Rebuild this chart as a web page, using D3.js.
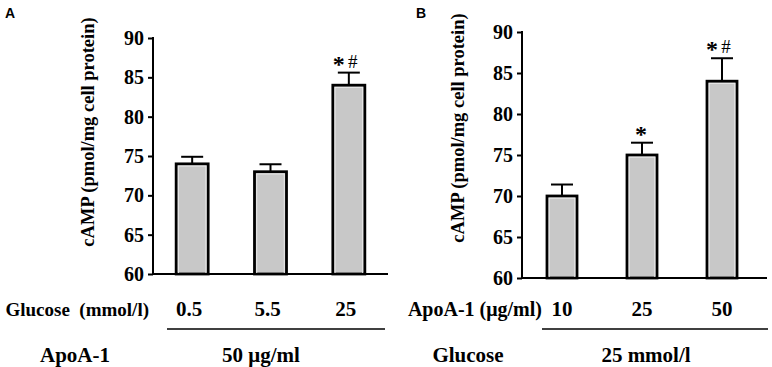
<!DOCTYPE html>
<html><head><meta charset="utf-8">
<script src="https://cdn.jsdelivr.net/npm/d3@7"></script>
<style>body{margin:0;background:#fff}svg{display:block}text{white-space:pre}</style>
</head><body>
<svg id="c" width="772" height="367"></svg>
<script>
// ---- data ----
const yTicks = [60, 65, 70, 75, 80, 85, 90];
const catsA = ["0.5", "5.5", "25"];
const valsA = [74, 73, 84];
const errA = [0.9, 0.95, 1.6];
const starA = [false, false, true];
const hashA = [false, false, true];
const catsB = ["10", "25", "50"];
const valsB = [70, 75, 84];
const errB = [1.4, 1.5, 2.8];
const starB = [false, true, true];
const hashB = [false, false, true];
const yTitle = "cAMP (pmol/mg cell protein)";

const svg = d3.select("#c");
const serif = "'Liberation Serif','Times New Roman',serif";
const sans = "'Liberation Sans',Arial,sans-serif";

function panel(o) {
  const g = svg.append("g");
  const y = d3.scaleLinear().domain([60, 90]).range([o.y0, o.y1]);
  const x = d3.scaleBand().domain(o.cats).range([o.ax, o.xEnd]);
  // bars
  o.cats.forEach((c, i) => {
    const cx = x(c) + x.bandwidth() / 2;
    const v = o.vals[i], e = o.errs[i];
    const et = y(v + e);
    g.append("line").attr("x1", cx).attr("x2", cx).attr("y1", y(v)).attr("y2", et)
      .attr("stroke", "#000").attr("stroke-width", 2);
    g.append("line").attr("x1", cx - o.cap / 2).attr("x2", cx + o.cap / 2)
      .attr("y1", et).attr("y2", et).attr("stroke", "#000").attr("stroke-width", 2);
    g.append("rect").attr("x", cx - o.bw / 2).attr("y", y(v)).attr("width", o.bw)
      .attr("height", y(60) - y(v)).attr("fill", "#c8c8c8").attr("stroke", "#000").attr("stroke-width", 2.8);
    g.append("rect").attr("x", cx - o.bw / 2 + 2.2).attr("y", y(v) + 2.2).attr("width", o.bw - 4.4)
      .attr("height", y(60) - y(v) - 2.2).attr("fill", "none").attr("stroke", "#e8e8e8").attr("stroke-width", 1);
    const both = o.stars[i] && o.hashes[i];
    if (o.stars[i]) {
      g.append("text").attr("x", both ? cx - 10 : cx - 1).attr("y", et - 1).attr("text-anchor", "middle")
        .attr("font-family", serif).attr("font-weight", "bold").attr("font-size", 24).text("*");
    }
    if (o.hashes[i]) {
      g.append("text").attr("x", cx + 4).attr("y", et - 5).attr("text-anchor", "middle")
        .attr("font-family", serif).attr("font-size", 19).text("#");
    }
  });
  // axes
  const ya = g.append("g").attr("transform", `translate(${o.ax},0)`)
    .call(d3.axisLeft(y).tickValues(yTicks).tickSize(5).tickPadding(4));
  ya.select(".domain").remove();
  ya.selectAll(".tick line").attr("stroke-width", 2);
  ya.selectAll(".tick text").attr("font-family", serif).attr("font-weight", "bold").attr("font-size", 20).attr("fill", "#000");
  g.append("line").attr("x1", o.ax).attr("x2", o.ax).attr("y1", o.y1 - 1).attr("y2", o.y0 + 1)
    .attr("stroke", "#000").attr("stroke-width", 2);
  g.append("line").attr("x1", o.ax).attr("x2", o.axEnd).attr("y1", o.y0).attr("y2", o.y0)
    .attr("stroke", "#000").attr("stroke-width", 2);
  // y title
  g.append("text").attr("transform", `translate(${o.tx},${o.ty}) rotate(-90)`)
    .attr("text-anchor", "middle").attr("font-family", serif).attr("font-weight", "bold")
    .attr("font-size", 18.5).text(yTitle);
  // panel letter
  g.append("text").attr("x", o.lx).attr("y", 18).attr("font-family", sans).attr("font-weight", "bold")
    .attr("font-size", 14).text(o.letter);
  // bottom labels
  const bt = (t, xx, yy, anchor, fs) => g.append("text").attr("x", xx).attr("y", yy).attr("text-anchor", anchor || "middle")
    .attr("font-family", serif).attr("font-weight", "bold").attr("font-size", fs || 21).text(t);
  o.cats.forEach(c => bt(c, x(c) + x.bandwidth() / 2 + o.ldx, 316));
  bt(o.row1, o.row1x, 316, "end", o.row1fs);
  g.append("line").attr("x1", o.lineX0).attr("x2", o.lineX1).attr("y1", 329).attr("y2", 329)
    .attr("stroke", "#000").attr("stroke-width", 1.5);
  bt(o.row2, o.row2x, 362);
  bt(o.row2v, o.row2vx, 362);
}

panel({cats: catsA, vals: valsA, errs: errA, stars: starA, hashes: hashA, y0: 274, y1: 38, ax: 153, xEnd: 388, axEnd: 388,
  bw: 32, cap: 22, tx: 94, ty: 132, lx: 5, letter: "A", row1: "Glucose  (mmol/l)", row1x: 149, row1fs: 19, ldx: -3,
  lineX0: 167, lineX1: 385, row2: "ApoA-1", row2x: 75, row2v: "50 μg/ml", row2vx: 261});
panel({cats: catsB, vals: valsB, errs: errB, stars: starB, hashes: hashB, y0: 278, y1: 32, ax: 522, xEnd: 762, axEnd: 767,
  bw: 30, cap: 22, tx: 464, ty: 128, lx: 416, letter: "B", row1: "ApoA-1 (μg/ml)", row1x: 542, row1fs: 20, ldx: 0,
  lineX0: 542, lineX1: 768, row2: "Glucose", row2x: 468, row2v: "25 mmol/l", row2vx: 646});
</script>
</body></html>
